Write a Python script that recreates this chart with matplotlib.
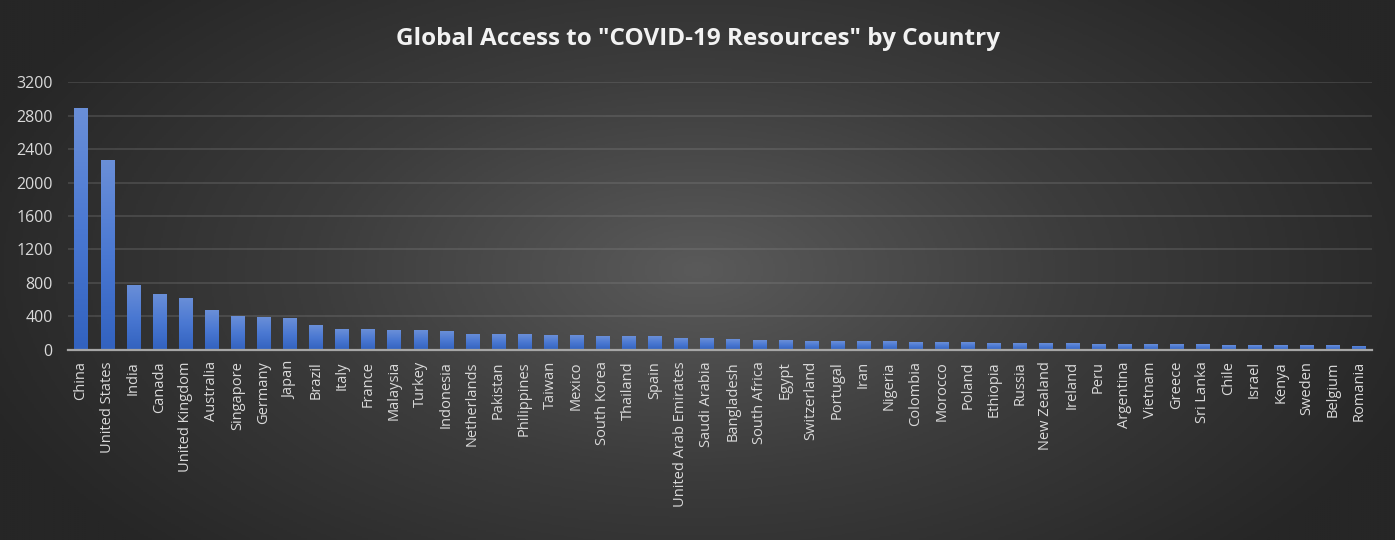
import numpy as np
import matplotlib
matplotlib.use("Agg")
import matplotlib.pyplot as plt
from matplotlib.colors import LinearSegmentedColormap

countries = ["China", "United States", "India", "Canada", "United Kingdom", "Australia",
             "Singapore", "Germany", "Japan", "Brazil", "Italy", "France", "Malaysia",
             "Turkey", "Indonesia", "Netherlands", "Pakistan", "Philippines", "Taiwan",
             "Mexico", "South Korea", "Thailand", "Spain", "United Arab Emirates",
             "Saudi Arabia", "Bangladesh", "South Africa", "Egypt", "Switzerland",
             "Portugal", "Iran", "Nigeria", "Colombia", "Morocco", "Poland", "Ethiopia",
             "Russia", "New Zealand", "Ireland", "Peru", "Argentina", "Vietnam", "Greece",
             "Sri Lanka", "Chile", "Israel", "Kenya", "Sweden", "Belgium", "Romania"]
values = [2886, 2268, 781, 674, 626, 472, 400, 389, 377, 293, 246, 246, 234,
          234, 222, 195, 190, 190, 178, 178, 166, 166, 166, 143,
          143, 131, 119, 119, 107, 107, 107, 107, 95, 95, 95, 83,
          83, 83, 83, 71, 71, 71, 71, 71, 59, 59, 59, 59, 59, 48]
yticks = [0, 400, 800, 1200, 1600, 2000, 2400, 2800, 3200]

fig = plt.figure(figsize=(13.95, 5.4), dpi=100)

# radial background
bg = fig.add_axes([0, 0, 1, 1], zorder=-10)
yy, xx = np.mgrid[0:1:270j, 0:1:700j]
r = np.sqrt(((xx - 0.5) / 0.55) ** 2 + ((yy - 0.5) / 0.75) ** 2)
r = np.clip(r, 0, 1)
bg_cmap = LinearSegmentedColormap.from_list("bg", ["#5a5a5a", "#3c3c3c", "#262626"])
bg.imshow(r, cmap=bg_cmap, aspect="auto", extent=[0, 1, 0, 1], vmin=0, vmax=1)
bg.axis("off")

ax = fig.add_axes([0.0487, 0.352, 0.9348, 0.496])
ax.set_facecolor("none")
x = np.arange(len(countries))
bars = ax.bar(x, values, width=0.5, color="none", zorder=3)

# vertical gradient in every bar
grad = np.linspace(1, 0, 100).reshape(-1, 1)
bar_cmap = LinearSegmentedColormap.from_list("bar", ["#3262bf", "#4a78d2", "#6a8fd8"])
for b in bars:
    x0, w, h = b.get_x(), b.get_width(), b.get_height()
    im = ax.imshow(grad, cmap=bar_cmap, aspect="auto", extent=[x0, x0 + w, 0, h],
                   vmin=0, vmax=1, zorder=3)
    im.set_clip_path(b)

ax.set_xlim(-0.5, len(countries) - 0.5)
ax.set_ylim(0, 3200)
ax.set_yticks(yticks)
ax.set_yticklabels([str(t) for t in yticks])
ax.set_xticks(x)
ax.set_xticklabels(countries, rotation=90)

ax.grid(axis="y", color="#8c8c8c", alpha=0.3, linewidth=1.2, zorder=0)
ax.set_axisbelow(True)
for s in ["top", "right", "left"]:
    ax.spines[s].set_visible(False)
ax.spines["bottom"].set_color("#a6a6a6")
ax.spines["bottom"].set_linewidth(1.6)
ax.spines["bottom"].set_zorder(4)

ax.tick_params(axis="y", length=0, pad=11, labelsize=11.5, labelcolor="#d9d9d9")
ax.tick_params(axis="x", length=0, pad=8, labelsize=10.5, labelcolor="#d9d9d9")
for lab in ax.get_xticklabels() + ax.get_yticklabels():
    lab.set_fontfamily("Open Sans")

fig.text(0.5, 0.927, 'Global Access to "COVID-19 Resources" by Country',
         ha="center", va="center", fontsize=17.5, fontweight="bold",
         color="#f2f2f2", family="Open Sans")

fig.savefig("out.png", dpi=100)
